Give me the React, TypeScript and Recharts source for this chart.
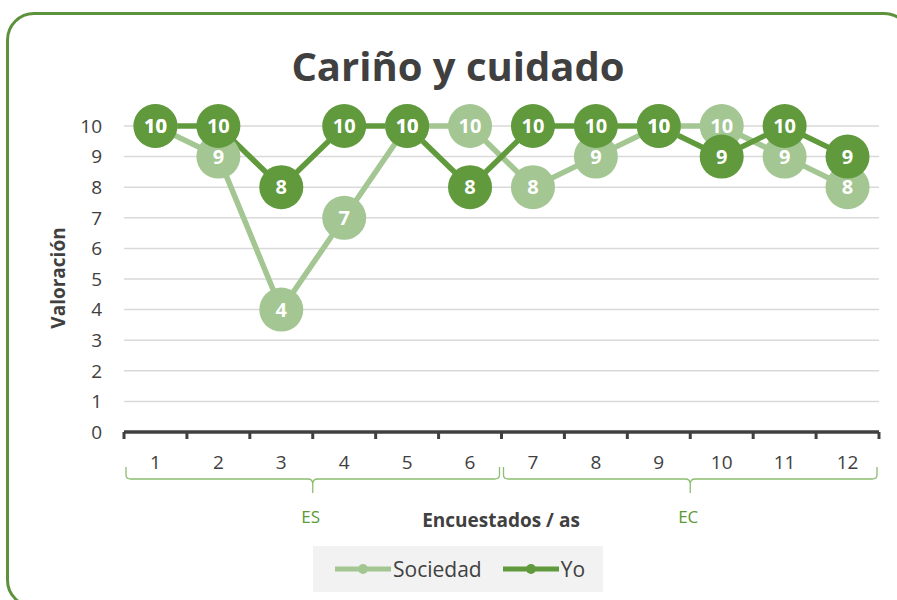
import { LineChart, Line, XAxis, YAxis, CartesianGrid, LabelList, Legend, ReferenceArea } from "recharts";

const encuestados = [1, 2, 3, 4, 5, 6, 7, 8, 9, 10, 11, 12];
const sociedad = [10, 9, 4, 7, 10, 10, 8, 9, 10, 10, 9, 8];
const yo = [10, 10, 8, 10, 10, 8, 10, 10, 10, 9, 10, 9];
const yTicks = [0, 1, 2, 3, 4, 5, 6, 7, 8, 9, 10];
const grupos = ["ES", "EC"];
const gruposDesde = [0.5, 6.5];
const gruposHasta = [6.5, 12.5];
const series = [
  { key: "sociedad", name: "Sociedad", color: "#a3c693" },
  { key: "yo", name: "Yo", color: "#609a3d" },
];

const data = encuestados.map((n, i) => ({ n, sociedad: sociedad[i], yo: yo[i] }));
// ticks at the category edges (tick marks) and centres (labels)
const xTicks = [encuestados[0] - 0.5, ...encuestados.flatMap((n) => [n, n + 0.5])];

const FONT = "'Open Sans', 'DejaVu Sans', sans-serif";
const TEXT = "#404040";
const BRACKET = "#8cbd70";

function XTick({ x, y, payload }: any) {
  const v = payload.value;
  if (Number.isInteger(v)) {
    return (
      <text x={x} y={y + 37} textAnchor="middle" fill={TEXT} fontSize={19}>
        {v}
      </text>
    );
  }
  return <line x1={x} y1={y} x2={x} y2={y + 7} stroke={TEXT} strokeWidth={3} />;
}

function Bracket(label: string) {
  return ({ x, y, width, height }: any) => {
    const l = x + 2;
    const r = x + width - 2;
    const b = y + height;
    const cx = x + width / 2;
    const d = [
      `M${l},${y} L${l},${b - 4} Q${l},${b} ${l + 5},${b} L${cx - 5},${b} Q${cx},${b} ${cx},${b + 5} L${cx},${b + 14}`,
      `M${cx},${b + 5} Q${cx},${b} ${cx + 5},${b} L${r - 5},${b} Q${r},${b} ${r},${b - 4} L${r},${y}`,
    ].join(" ");
    return (
      <g>
        <path d={d} fill="none" stroke={BRACKET} strokeWidth={1.3} />
        <text x={cx - 2} y={b + 44} textAnchor="middle" fill="#5b9a35" fontSize={17}>
          {label}
        </text>
      </g>
    );
  };
}

function LegendBox() {
  return (
    <div
      style={{
        width: 290,
        height: 46,
        background: "#f2f2f2",
        display: "flex",
        alignItems: "center",
        paddingLeft: 22,
        boxSizing: "border-box",
        fontFamily: FONT,
        fontSize: 21,
        color: TEXT,
      }}
    >
      {series.map((s) => (
        <div key={s.key} style={{ display: "flex", alignItems: "center", marginRight: 21 }}>
          <svg width={56} height={14} style={{ marginRight: 2 }}>
            <line x1={0} y1={7} x2={56} y2={7} stroke={s.color} strokeWidth={5} strokeLinecap="round" />
            <circle cx={28} cy={7} r={5} fill={s.color} />
          </svg>
          <span>{s.name}</span>
        </div>
      ))}
    </div>
  );
}

export default function App() {
  return (
    <div
      style={{
        position: "absolute",
        left: 0,
        top: 0,
        width: 897,
        height: 600,
        overflow: "hidden",
        background: "#fff",
        fontFamily: FONT,
      }}
    >
      <div
        style={{
          position: "absolute",
          left: 6,
          top: 12,
          width: 906,
          height: 596,
          boxSizing: "border-box",
          border: "3.5px solid #5d923c",
          borderRadius: 28,
        }}
      />
      <div
        style={{
          position: "absolute",
          left: 0,
          top: 46,
          width: 916,
          textAlign: "center",
          fontSize: 40,
          lineHeight: 1,
          fontWeight: 700,
          color: TEXT,
        }}
      >
        Cariño y cuidado
      </div>
      <div
        style={{
          position: "absolute",
          left: 58,
          top: 278,
          transform: "translate(-50%, -50%) rotate(-90deg)",
          fontSize: 19,
          fontWeight: 700,
          color: TEXT,
          whiteSpace: "nowrap",
        }}
      >
        Valoración
      </div>
      <div
        style={{
          position: "absolute",
          left: 401,
          top: 511,
          width: 200,
          textAlign: "center",
          fontSize: 19,
          lineHeight: 1,
          fontWeight: 700,
          color: TEXT,
        }}
      >
        Encuestados / as
      </div>
      <div style={{ position: "absolute", left: 0, top: 0 }}>
        <LineChart width={897} height={600} data={data} margin={{ top: 126, right: 18, bottom: 78, left: 64 }}>
          <CartesianGrid vertical={false} stroke="#d9d9d9" strokeWidth={1.5} />
          <XAxis
            dataKey="n"
            type="number"
            domain={[0.5, 12.5]}
            ticks={xTicks}
            interval={0}
            height={90}
            tickSize={0}
            tickMargin={0}
            tickLine={false}
            axisLine={{ stroke: TEXT, strokeWidth: 3.5 }}
            tick={<XTick />}
          />
          <YAxis
            domain={[0, 10]}
            ticks={yTicks}
            interval={0}
            width={60}
            axisLine={false}
            tickLine={false}
            tickSize={0}
            tickMargin={22}
            tick={{ fill: TEXT, fontSize: 19 }}
          />
          {grupos.map((g, i) => (
            <ReferenceArea
              key={g}
              x1={gruposDesde[i]}
              x2={gruposHasta[i]}
              y1={-1.536}
              y2={-1.144}
              ifOverflow="visible"
              shape={Bracket(g)}
            />
          ))}
          {series.map((s) => (
            <Line
              key={s.key}
              dataKey={s.key}
              name={s.name}
              type="linear"
              stroke={s.color}
              strokeWidth={5.5}
              dot={{ r: 22, fill: s.color, stroke: s.color, strokeWidth: 0 }}
              activeDot={false}
              isAnimationActive={false}
            >
              <LabelList dataKey={s.key} position="center" fill="#fff" fontSize={20} fontWeight={700} />
            </Line>
          ))}
          <Legend
            layout="vertical"
            verticalAlign="middle"
            align="center"
            wrapperStyle={{ left: 313, top: 546, width: 290, height: 46 }}
            content={() => <LegendBox />}
          />
        </LineChart>
      </div>
    </div>
  );
}
